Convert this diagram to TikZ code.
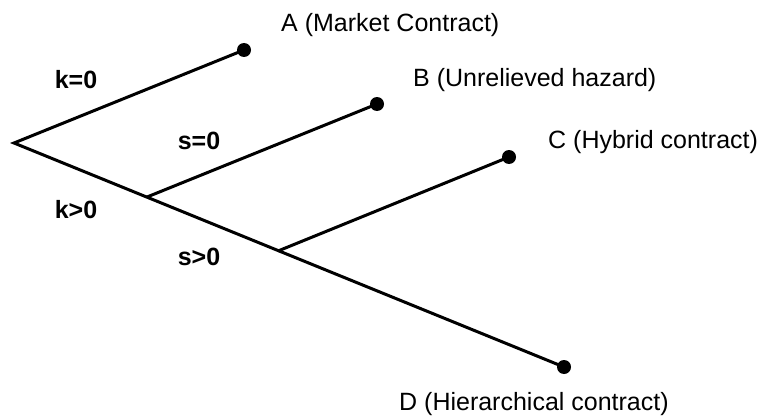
\documentclass[tikz,border=0pt]{standalone}
\usepackage{fontspec}
\setmainfont{Liberation Sans}
\begin{document}
\begin{tikzpicture}[x=1pt,y=-1pt,
  branch/.style={line width=3pt},
  leaf/.style={circle,fill=black,inner sep=0pt,minimum size=14pt},
  lab/.style={inner sep=0pt,anchor=west,font=\fontsize{25}{30}\selectfont},
  cond/.style={inner sep=0pt,font=\fontsize{25}{30}\selectfont\bfseries}]
\useasboundingbox (0,0) rectangle (763,420);
\coordinate (root) at (14,143);
\coordinate (b1) at (147,197);
\coordinate (b2) at (278,251);
\node[leaf] (A) at (244,50) {};
\node[leaf] (B) at (377,104) {};
\node[leaf] (C) at (509,157) {};
\node[leaf] (D) at (564,367) {};
\draw[branch] (A.center) -- (root) -- (D.center);
\draw[branch] (b1) -- (B.center);
\draw[branch] (b2) -- (C.center);
\node[lab] (tA) at (281,25) {A (Market Contract)};
\node[lab] (tB) at (413,80) {B (Unrelieved hazard)};
\node[lab] (tC) at (548,142) {C (Hybrid contract)};
\node[lab] (tD) at (399,404) {D (Hierarchical contract)};
\node[cond] (k0) at (76,80) {k=0};
\node[cond] (s0) at (199,141) {s=0};
\node[cond] (k1) at (76,210) {k>0};
\node[cond] (s1) at (199,257) {s>0};
\end{tikzpicture}
\end{document}
